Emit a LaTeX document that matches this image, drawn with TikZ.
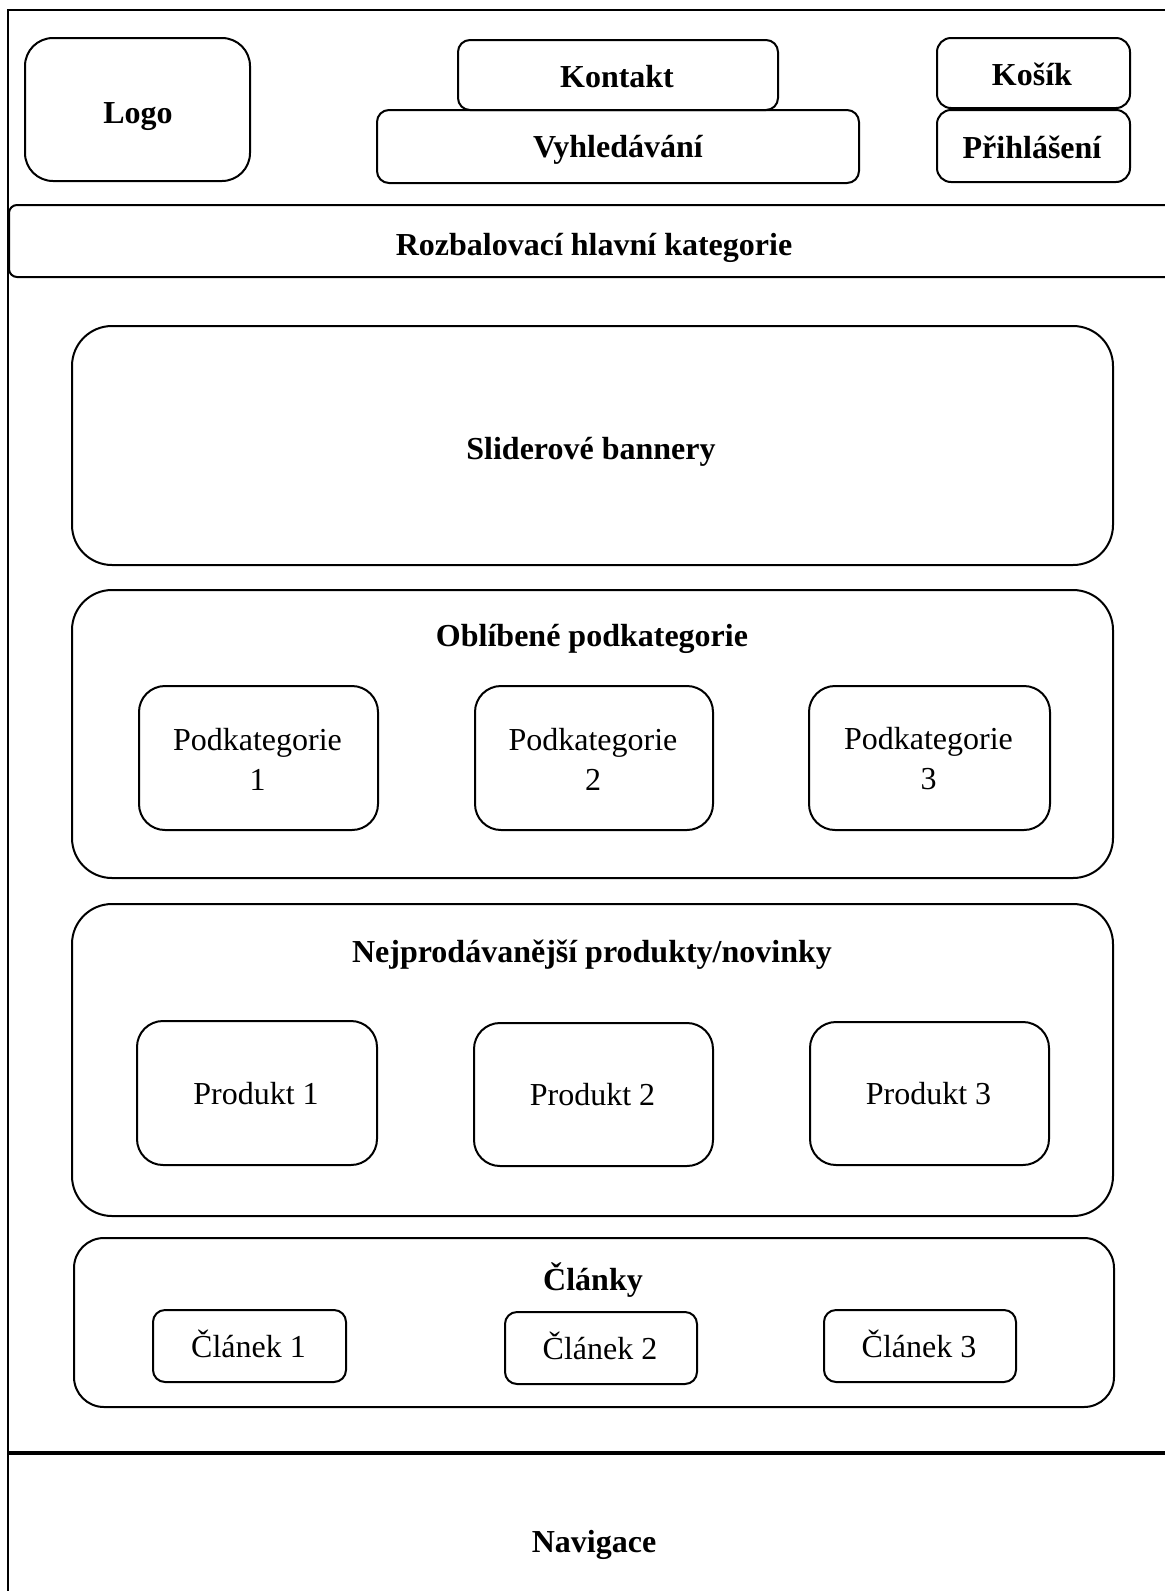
\documentclass[tikz,border=0pt]{standalone}
\usepackage{fontspec}
\setmainfont{Liberation Serif}
\begin{document}
\begin{tikzpicture}[x=1pt,y=-1pt,
  box/.style={draw, line width=2pt, rounded corners=#1, inner sep=0pt, anchor=north west},
  ttl/.style={anchor=base, inner sep=0pt, font=\bfseries\fontsize{32}{40}\selectfont},
  txt/.style={anchor=base, inner sep=0pt, font=\fontsize{32}{40}\selectfont},
  txt2/.style={anchor=center, inner sep=0pt, align=center, font=\fontsize{32}{40}\selectfont}]
\useasboundingbox (0,0) rectangle (1165,1591);
\clip (0,0) rectangle (1165,1591);
\fill[white] (0,0) rectangle (1165,1591);
% outer frame
\coordinate (frameTR) at (1180,10);
\coordinate (frameBL) at (8,1600);
\draw[line width=2pt] (frameTR) -| (frameBL);
% header
\node[box=28pt, minimum width=225pt, minimum height=143pt] (logo) at (24,37) {};
\node[ttl] (logoT) at (138,123) {Logo};
\node[box=12pt, minimum width=320pt, minimum height=70pt] (kontakt) at (457,39) {};
\node[ttl] (kontaktT) at (617,87) {Kontakt};
\node[box=12pt, minimum width=482pt, minimum height=73pt] (vyhled) at (376,109) {};
\node[ttl] (vyhledT) at (618,157) {Vyhledávání};
\node[box=14pt, minimum width=193pt, minimum height=70pt] (kosik) at (936,37) {};
\node[ttl] (kosikT) at (1032,85) {Košík};
\node[box=14pt, minimum width=193pt, minimum height=72pt] (prihl) at (936,109) {};
\node[ttl] (prihlT) at (1032,158) {Přihlášení};
\node[box=8pt, minimum width=1177pt, minimum height=72pt] (rozbal) at (8,204) {};
\node[ttl] (rozbalT) at (594,255) {Rozbalovací hlavní kategorie};
% slider
\node[box=40pt, minimum width=1041pt, minimum height=239pt] (slider) at (71,325) {};
\node[ttl] (sliderT) at (591,459) {Sliderové bannery};
% oblibene
\node[box=40pt, minimum width=1041pt, minimum height=288pt] (obl) at (71,589) {};
\node[ttl] (oblT) at (592,646) {Oblíbené podkategorie};
\node[box=26pt, minimum width=239pt, minimum height=144pt] (pk1) at (138,685) {};
\node[box=26pt, minimum width=238pt, minimum height=144pt] (pk2) at (474,685) {};
\node[box=26pt, minimum width=241pt, minimum height=144pt] (pk3) at (808,685) {};
\node[txt2] (pk1T) at (257.5,759) {Podkategorie\\1};
\node[txt2] (pk2T) at (593,759) {Podkategorie\\2};
\node[txt2] (pk3T) at (928.5,759) {Podkategorie\\3};
% nejprodavanejsi
\node[box=40pt, minimum width=1041pt, minimum height=312pt] (nej) at (71,903) {};
\node[ttl] (nejT) at (592,962) {Nejprodávanější produkty/novinky};
\node[box=26pt, minimum width=240pt, minimum height=144pt] (pr1) at (136,1020) {};
\node[box=26pt, minimum width=239pt, minimum height=143pt] (pr2) at (473,1022) {};
\node[box=26pt, minimum width=239pt, minimum height=143pt] (pr3) at (809,1021) {};
\node[txt] (pr1T) at (256,1104) {Produkt 1};
\node[txt] (pr2T) at (592.5,1105) {Produkt 2};
\node[txt] (pr3T) at (928.5,1104) {Produkt 3};
% clanky
\node[box=30pt, minimum width=1040pt, minimum height=169pt] (cl) at (73,1237) {};
\node[ttl] (clT) at (593,1290) {Články};
\node[box=12pt, minimum width=193pt, minimum height=72pt] (c1) at (152,1309) {};
\node[box=12pt, minimum width=192pt, minimum height=72pt] (c2) at (504,1311) {};
\node[box=12pt, minimum width=192pt, minimum height=72pt] (c3) at (823,1309) {};
\node[txt] (c1T) at (248.5,1357) {Článek 1};
\node[txt] (c2T) at (600,1359) {Článek 2};
\node[txt] (c3T) at (919,1357) {Článek 3};
% footer
\coordinate (footL) at (8,1453);
\coordinate (footR) at (1180,1453);
\draw[line width=4pt] (footL) -- (footR);
\node[ttl] (navT) at (594,1552) {Navigace};
\end{tikzpicture}
\end{document}
